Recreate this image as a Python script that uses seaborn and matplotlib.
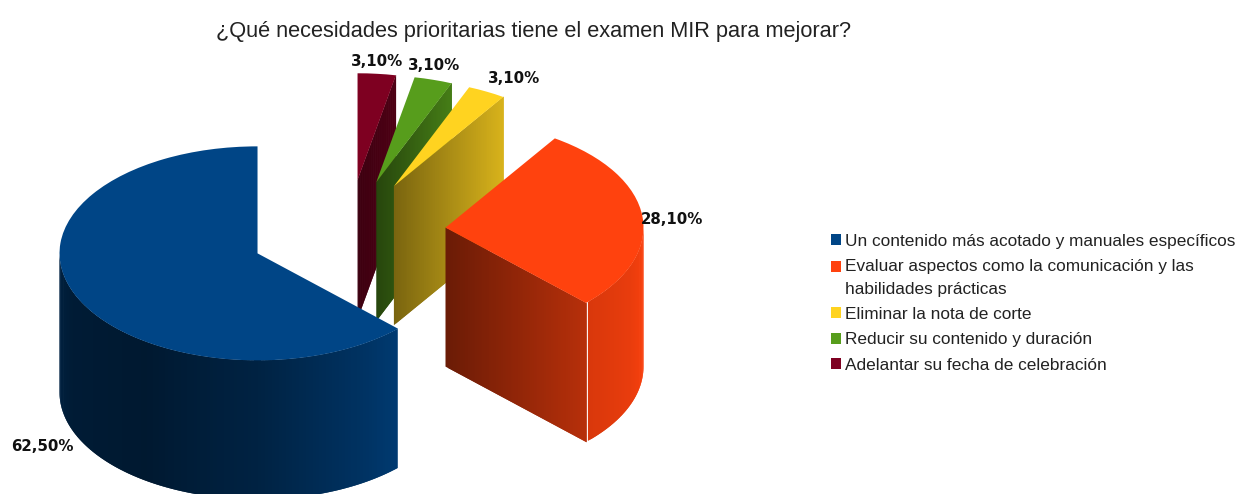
import numpy as np
import matplotlib
matplotlib.use('Agg')
import matplotlib.pyplot as plt
import seaborn as sns

# Data
labels = ['Un contenido más acotado y manuales específicos',
          'Evaluar aspectos como la comunicación y las\nhabilidades prácticas',
          'Eliminar la nota de corte',
          'Reducir su contenido y duración',
          'Adelantar su fecha de celebración']
values = [62.5, 28.1, 3.1, 3.1, 3.1]
value_text = ['62,50%', '28,10%', '3,10%', '3,10%', '3,10%']
colors = ['#004586', '#ff420e', '#ffd320', '#579d1c', '#7e0021']
title = '¿Qué necesidades prioritarias tiene el examen MIR para mejorar?'

# Pixel layout of the reference
W, H = 1238, 494
cx, cy = 348, 233       # pie centre
rx, ry = 198, 107       # ellipse radii
depth = 139 / ry        # wall height in data units
explode = [0.495] * 5
label_px = [(42, 446), (672, 219), (514, 78), (434, 66), (377, 61)]

# wall shading: arc angle -> brightness, and apex/rim brightness of the cut face
arc_angles = [180, 200, 235, 270, 300, 315, 340, 360]
arc_shade = [0.50, 0.40, 0.36, 0.50, 0.72, 0.85, 0.92, 1.0]
face_shade = [None, (0.42, 0.72), (0.48, 0.85), (0.45, 0.80), (0.48, 0.62)]

sns.set_theme(style='white')
plt.rcParams['font.family'] = ['Liberation Sans', 'DejaVu Sans']
palette = sns.color_palette(colors)

fig = plt.figure(figsize=(W / 100, H / 100), dpi=100)
ax = fig.add_axes([0, 0, 1, 1])
wedges, _ = ax.pie(values, colors=palette, explode=explode, startangle=90,
                   counterclock=True, wedgeprops={'linewidth': 0})
ax.set_aspect('auto')
ax.set_xlim(-cx / rx, (W - cx) / rx)
ax.set_ylim(-(H - cy) / ry, cy / ry)
ax.axis('off')


def strip(p0, p1, color, z):
    # one vertical slat of a wall
    xs = [p0[0], p1[0], p1[0], p0[0]]
    ys = [p0[1], p1[1], p1[1] - depth, p0[1] - depth]
    ax.fill(xs, ys, color=color, lw=0, zorder=z)


fracs = np.array(values) / sum(values)
starts = 90 + 360 * np.concatenate([[0], np.cumsum(fracs)[:-1]])
ends = starts + 360 * fracs

# back slices first, blue last so it covers the feet of the thin ones
for i in range(len(values) - 1, -1, -1):
    z = 2 * (len(values) - i)
    mid = np.radians((starts[i] + ends[i]) / 2)
    ox, oy = explode[i] * np.cos(mid), explode[i] * np.sin(mid)
    base = np.array(palette[i])

    # outer curved wall, only the part facing the viewer
    # each slat reaches over the next one so no seams show
    th = np.arange(180.0, 360.5, 1.0)
    th = th[((th >= starts[i]) & (th <= ends[i])) | ((th + 360 >= starts[i]) & (th + 360 <= ends[i]))]
    for k in range(len(th) - 1):
        t0, t1 = th[k], th[min(k + 2, len(th) - 1)]
        s = np.interp(t0, arc_angles, arc_shade)
        strip((ox + np.cos(np.radians(t0)), oy + np.sin(np.radians(t0))),
              (ox + np.cos(np.radians(t1)), oy + np.sin(np.radians(t1))), tuple(base * s), z)

    # cut face on the starting radius
    if face_shade[i] is not None:
        a = np.radians(starts[i])
        ts = np.linspace(0, 1.004, 60)
        for k in range(len(ts) - 1):
            t0, t1 = ts[k], ts[min(k + 2, len(ts) - 1)]
            s = np.interp(t0, [0, 1], face_shade[i])
            strip((ox + t0 * np.cos(a), oy + t0 * np.sin(a)),
                  (ox + t1 * np.cos(a), oy + t1 * np.sin(a)), tuple(base * s), z)

    wedges[i].set_zorder(z + 1)

for (px, py), txt in zip(label_px, value_text):
    fig.text(px / W, 1 - py / H, txt, ha='center', va='center', fontsize=10.8,
             fontweight='bold', color='#111111', family='DejaVu Sans')

fig.text(534 / W, 1 - 31 / H, title, ha='center', va='center', fontsize=15.7, color='#222222')

leg = ax.legend(wedges, labels, loc='upper left', bbox_to_anchor=(831 / W, 1 - 234 / H),
                bbox_transform=fig.transFigure, frameon=False, fontsize=12.4,
                handlelength=0.6, handleheight=0.6, handletextpad=0.22,
                labelspacing=0.6, borderpad=0, borderaxespad=0, labelcolor='#222222')
leg.set_zorder(30)
for t in leg.get_texts():
    t.set_linespacing(1.6)
# wrapped entry: square sits beside its first line, not between the two
h = leg.legend_handles[1]
h.set_y(h.get_y() + 8.3)

plt.savefig('out.png', dpi=100)
plt.close()
